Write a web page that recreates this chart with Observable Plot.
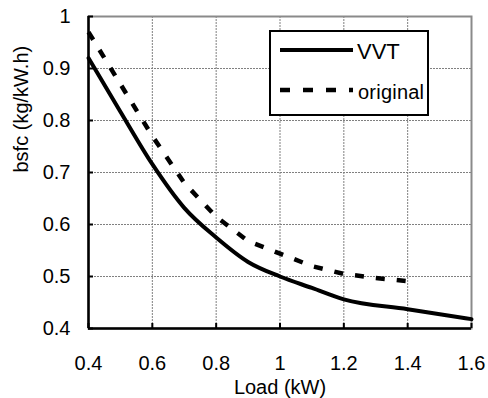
<!DOCTYPE html>
<html>
<head>
<meta charset="utf-8">
<script src="https://cdn.jsdelivr.net/npm/d3@7"></script>
<script src="https://cdn.jsdelivr.net/npm/@observablehq/plot@0.6"></script>
<style>
  html, body { margin: 0; padding: 0; background: white; }
  #chart { position: relative; width: 488px; height: 398px; }
</style>
</head>
<body>
<div id="chart"></div>
<script>
// Data
const loadVVT = [0.4, 0.5, 0.6, 0.7, 0.8, 0.9, 1.0, 1.1, 1.2, 1.4, 1.6];
const bsfcVVT = [0.92, 0.817, 0.716, 0.632, 0.575, 0.528, 0.50, 0.478, 0.456, 0.437, 0.418];

const loadOriginal = [0.4, 0.5, 0.6, 0.7, 0.8, 0.9, 1.0, 1.1, 1.2, 1.3, 1.42];
const bsfcOriginal = [0.97, 0.87, 0.77, 0.68, 0.615, 0.568, 0.544, 0.52, 0.505, 0.497, 0.49];

const xTicks = [0.4, 0.6, 0.8, 1.0, 1.2, 1.4, 1.6];
const yTicks = [0.4, 0.5, 0.6, 0.7, 0.8, 0.9, 1.0];
const xGrid = [0.6, 0.8, 1.0, 1.2, 1.4];
const yGrid = [0.5, 0.6, 0.7, 0.8, 0.9];

const seriesNames = ["VVT", "original"];

const vvt = loadVVT.map((x, i) => ({x, y: bsfcVVT[i]}));
const orig = loadOriginal.map((x, i) => ({x, y: bsfcOriginal[i]}));

const W = 488, H = 398;
const mL = 88, mR = 17, mT = 16, mB = 70;
const innerW = W - mL - mR, innerH = H - mT - mB;

const fmt = d => d3.format("")(+d.toFixed(1));

const plot = Plot.plot({
  width: W,
  height: H,
  marginLeft: mL,
  marginRight: mR,
  marginTop: mT,
  marginBottom: mB,
  style: {fontFamily: "'Liberation Sans', Arial, sans-serif", fontSize: "20px", background: "white", color: "black"},
  x: {domain: [0.4, 1.6]},
  y: {domain: [0.4, 1.0]},
  marks: [
    Plot.gridX(xGrid, {stroke: "#808080", strokeOpacity: 1, strokeWidth: 1, strokeDasharray: "2,1"}),
    Plot.gridY(yGrid, {stroke: "#808080", strokeOpacity: 1, strokeWidth: 1, strokeDasharray: "2,1"}),
    Plot.frame({stroke: "#8a8a8a", strokeWidth: 2}),
    Plot.ruleX([0.4], {stroke: "black", strokeWidth: 2.5}),
    Plot.ruleY([0.4], {stroke: "black", strokeWidth: 2.5}),
    Plot.tickX(xTicks, {x: d => d, insetTop: innerH - 5, stroke: "black", strokeWidth: 2}),
    Plot.tickY(yTicks, {y: d => d, insetRight: innerW - 5, stroke: "black", strokeWidth: 2}),
    Plot.axisX(xTicks, {tickSize: 0, tickPadding: 27, tickFormat: fmt, label: null, fontSize: 20}),
    Plot.axisY(yTicks, {tickSize: 0, tickPadding: 18, tickFormat: fmt, label: null, fontSize: 20}),
    Plot.text(["Load (kW)"], {frameAnchor: "bottom", dy: 59, lineAnchor: "middle", fontSize: 20}),
    Plot.text(["bsfc (kg/kW.h)"], {frameAnchor: "left", dx: -67, rotate: -90, lineAnchor: "middle", fontSize: 20}),
    Plot.line(orig, {x: "x", y: "y", stroke: "black", strokeWidth: 4.5, strokeDasharray: "9,12", strokeLinecap: "butt"}),
    Plot.line(vvt, {x: "x", y: "y", stroke: "black", strokeWidth: 4, curve: "monotone-x"})
  ]
});

document.getElementById("chart").appendChild(plot);

// Legend box drawn inside the plot svg
const svg = d3.select(plot);
const lg = svg.append("g")
  .attr("font-family", "'Liberation Sans', Arial, sans-serif")
  .attr("text-anchor", "start");
lg.append("rect").attr("x", 270).attr("y", 31).attr("width", 158).attr("height", 84)
  .attr("fill", "white").attr("stroke", "black").attr("stroke-width", 2);
lg.append("line").attr("x1", 280).attr("x2", 353).attr("y1", 50).attr("y2", 50)
  .attr("stroke", "black").attr("stroke-width", 4);
lg.append("line").attr("x1", 280).attr("x2", 353).attr("y1", 90).attr("y2", 90)
  .attr("stroke", "black").attr("stroke-width", 4.5).attr("stroke-dasharray", "10,13");
lg.append("text").attr("x", 357).attr("y", 59).attr("font-size", 22).attr("text-anchor", "start").text(seriesNames[0]);
lg.append("text").attr("x", 358).attr("y", 99).attr("font-size", 20).attr("text-anchor", "start").attr("textLength", 66).text(seriesNames[1]);
</script>
</body>
</html>
